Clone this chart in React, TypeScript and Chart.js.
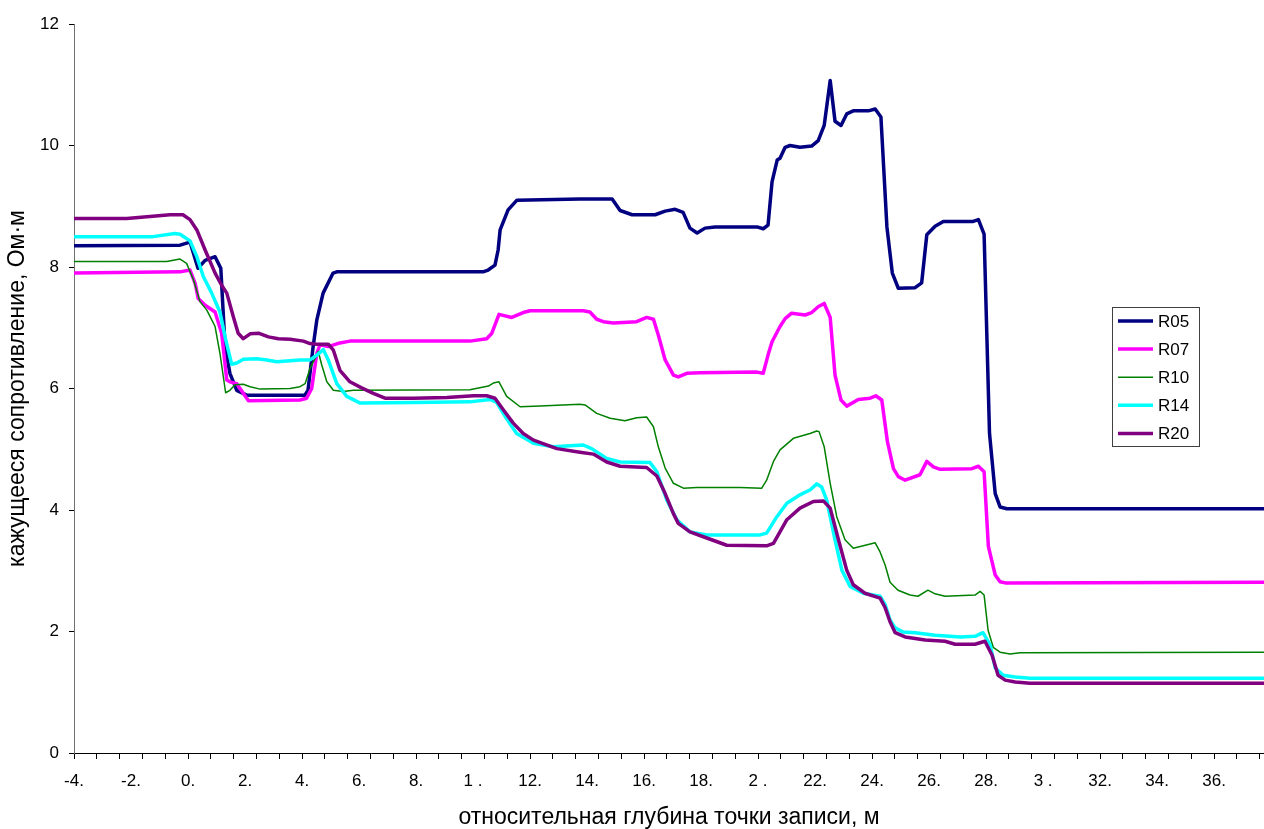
import React, { useEffect, useRef } from "react";
import { Chart, registerables } from "chart.js";

Chart.register(...registerables);

const seriesNames = ["R05", "R07", "R10", "R14", "R20"];
const seriesColors = ["#000080", "#FF00FF", "#008000", "#00FFFF", "#800080"];
const seriesWidths = [3.5, 3.5, 1.5, 3.5, 3.5];

const xTickLabels = ["-4.", "-2.", "0.", "2.", "4.", "6.", "8.", "1 .", "12.", "14.", "16.", "18.", "2 .", "22.", "24.", "26.", "28.", "3 .", "32.", "34.", "36."];
const yTickLabels = ["0", "2", "4", "6", "8", "10", "12"];

const X_MIN = -4;
const X_MAX = 37.75;

const r05X = [-4, -0.28, 0.07, 0.35, 0.6, 0.95, 1.15, 1.3, 1.47, 1.71, 2.06, 4.1, 4.21, 4.39, 4.52, 4.74, 5.09, 5.22, 10.35, 10.53, 10.77, 10.88, 10.95, 11.23, 11.54, 13.75, 14.88, 15.16, 15.58, 16.39, 16.74, 17.09, 17.37, 17.61, 17.86, 18.14, 18.49, 19.96, 20.18, 20.35, 20.49, 20.67, 20.77, 20.95, 21.12, 21.47, 21.88, 22.11, 22.32, 22.53, 22.7, 22.91, 23.11, 23.34, 23.87, 24.11, 24.31, 24.52, 24.71, 24.92, 25.51, 25.74, 25.92, 26.21, 26.5, 27.55, 27.73, 27.93, 28.12, 28.32, 28.49, 28.73, 37.75];
const r05Y = [8.35, 8.36, 8.41, 7.98, 8.11, 8.17, 7.98, 6.69, 6.25, 5.97, 5.89, 5.89, 5.97, 6.69, 7.13, 7.57, 7.9, 7.92, 7.92, 7.95, 8.03, 8.28, 8.61, 8.94, 9.1, 9.12, 9.12, 8.93, 8.86, 8.86, 8.92, 8.95, 8.9, 8.64, 8.56, 8.64, 8.66, 8.66, 8.63, 8.69, 9.4, 9.76, 9.79, 9.97, 10.0, 9.97, 9.99, 10.08, 10.33, 11.07, 10.4, 10.33, 10.52, 10.57, 10.57, 10.6, 10.47, 8.66, 7.9, 7.65, 7.66, 7.74, 8.53, 8.67, 8.75, 8.75, 8.78, 8.54, 5.26, 4.27, 4.05, 4.02, 4.02];

const r07X = [-4, -0.28, 0.07, 0.25, 0.36, 0.6, 0.95, 1.18, 1.36, 1.47, 1.71, 2.12, 3.93, 4.16, 4.34, 4.52, 4.63, 4.92, 5.33, 5.68, 9.89, 10.48, 10.66, 10.91, 11.36, 11.76, 12.0, 13.87, 14.1, 14.34, 14.57, 14.92, 15.74, 16.09, 16.33, 16.5, 16.74, 17.03, 17.2, 17.5, 17.96, 19.96, 20.18, 20.35, 20.49, 20.77, 20.95, 21.18, 21.65, 21.88, 22.12, 22.32, 22.53, 22.7, 22.91, 23.11, 23.52, 23.93, 24.13, 24.34, 24.54, 24.75, 24.92, 25.16, 25.68, 25.92, 26.15, 26.39, 27.5, 27.73, 27.93, 28.08, 28.32, 28.49, 28.67, 37.75];
const r07Y = [7.9, 7.92, 7.95, 7.73, 7.48, 7.37, 7.26, 6.91, 6.14, 6.11, 6.08, 5.8, 5.81, 5.84, 6.0, 6.58, 6.72, 6.69, 6.75, 6.78, 6.78, 6.82, 6.91, 7.22, 7.17, 7.25, 7.28, 7.28, 7.26, 7.14, 7.1, 7.08, 7.1, 7.17, 7.14, 6.88, 6.47, 6.22, 6.19, 6.25, 6.26, 6.27, 6.25, 6.55, 6.77, 7.02, 7.15, 7.24, 7.21, 7.25, 7.35, 7.4, 7.17, 6.22, 5.81, 5.71, 5.82, 5.84, 5.88, 5.81, 5.12, 4.68, 4.55, 4.49, 4.58, 4.8, 4.71, 4.67, 4.68, 4.72, 4.63, 3.4, 2.93, 2.82, 2.8, 2.81];

const r10X = [-4, -0.75, -0.28, -0.05, 0.19, 0.42, 0.66, 0.95, 1.12, 1.32, 1.47, 1.65, 1.94, 2.18, 2.53, 3.58, 3.93, 4.11, 4.28, 4.46, 4.57, 4.69, 4.87, 5.1, 5.45, 5.8, 9.89, 10.54, 10.71, 10.91, 11.18, 11.65, 12.35, 13.75, 13.93, 14.34, 14.81, 15.33, 15.74, 16.09, 16.33, 16.5, 16.74, 17.03, 17.38, 17.85, 19.37, 20.13, 20.3, 20.54, 20.77, 21.24, 21.82, 22.06, 22.14, 22.32, 22.53, 22.76, 23.05, 23.34, 24.11, 24.28, 24.46, 24.63, 24.91, 25.33, 25.61, 25.96, 26.21, 26.56, 27.61, 27.79, 27.93, 28.07, 28.25, 28.49, 28.84, 29.19, 37.75];
const r10Y = [8.09, 8.09, 8.13, 8.06, 7.79, 7.43, 7.29, 7.02, 6.58, 5.93, 5.97, 6.06, 6.07, 6.03, 5.99, 6.0, 6.03, 6.08, 6.33, 6.5, 6.61, 6.39, 6.11, 5.97, 5.95, 5.97, 5.98, 6.04, 6.09, 6.11, 5.87, 5.7, 5.71, 5.74, 5.73, 5.59, 5.51, 5.47, 5.52, 5.53, 5.37, 5.04, 4.69, 4.44, 4.36, 4.37, 4.37, 4.36, 4.49, 4.8, 4.99, 5.18, 5.26, 5.3, 5.29, 5.04, 4.44, 3.89, 3.51, 3.37, 3.46, 3.31, 3.09, 2.81, 2.68, 2.6, 2.58, 2.68, 2.62, 2.58, 2.6, 2.66, 2.6, 2.02, 1.74, 1.66, 1.63, 1.65, 1.66];

const r14X = [-4, -1.23, -0.46, -0.28, 0.07, 0.31, 0.54, 0.83, 1.12, 1.3, 1.53, 1.71, 1.94, 2.41, 2.76, 3.11, 3.93, 4.28, 4.52, 4.75, 4.92, 5.22, 5.57, 6.04, 7.91, 9.89, 10.6, 10.83, 11.18, 11.53, 12.12, 12.82, 13.87, 14.16, 14.69, 15.16, 16.21, 16.45, 16.8, 17.15, 17.61, 18.2, 20.07, 20.3, 20.66, 21.01, 21.47, 21.82, 22.06, 22.23, 22.41, 22.7, 22.94, 23.23, 23.69, 24.28, 24.46, 24.63, 24.81, 25.09, 25.51, 26.21, 27.09, 27.61, 27.89, 28.14, 28.32, 28.6, 29.02, 29.54, 37.75];
const r14Y = [8.5, 8.5, 8.55, 8.54, 8.43, 8.17, 7.84, 7.57, 7.26, 6.85, 6.4, 6.42, 6.48, 6.49, 6.47, 6.44, 6.47, 6.47, 6.55, 6.64, 6.47, 6.08, 5.87, 5.76, 5.77, 5.78, 5.82, 5.77, 5.5, 5.26, 5.1, 5.04, 5.07, 5.01, 4.85, 4.79, 4.78, 4.63, 4.16, 3.84, 3.64, 3.59, 3.59, 3.62, 3.89, 4.11, 4.25, 4.33, 4.43, 4.38, 4.16, 3.51, 3.01, 2.74, 2.63, 2.58, 2.44, 2.19, 2.06, 1.99, 1.98, 1.94, 1.91, 1.92, 1.98, 1.78, 1.4, 1.28, 1.25, 1.23, 1.23];

const r20X = [-4, -2.15, -0.63, -0.18, 0.07, 0.31, 0.6, 0.95, 1.18, 1.36, 1.59, 1.76, 1.94, 2.18, 2.47, 2.82, 3.17, 3.58, 4.05, 4.28, 4.52, 4.92, 5.1, 5.33, 5.68, 6.09, 6.5, 6.91, 7.91, 9.08, 10.01, 10.48, 10.77, 11.06, 11.41, 11.76, 12.12, 12.94, 13.75, 14.22, 14.69, 15.16, 16.09, 16.45, 16.74, 17.03, 17.2, 17.61, 18.08, 18.9, 20.3, 20.54, 21.01, 21.47, 21.94, 22.29, 22.53, 22.82, 23.11, 23.34, 23.75, 24.28, 24.46, 24.63, 24.81, 25.16, 25.86, 26.56, 26.91, 27.61, 27.96, 28.21, 28.42, 28.67, 29.02, 29.54, 37.75];
const r20Y = [8.8, 8.8, 8.86, 8.86, 8.78, 8.61, 8.28, 7.9, 7.7, 7.57, 7.18, 6.91, 6.82, 6.9, 6.91, 6.85, 6.82, 6.81, 6.78, 6.74, 6.73, 6.73, 6.63, 6.3, 6.11, 6.01, 5.92, 5.84, 5.84, 5.85, 5.88, 5.88, 5.84, 5.65, 5.43, 5.26, 5.15, 5.01, 4.95, 4.92, 4.79, 4.72, 4.7, 4.56, 4.27, 3.94, 3.78, 3.64, 3.56, 3.42, 3.41, 3.45, 3.84, 4.03, 4.14, 4.15, 4.03, 3.51, 3.01, 2.77, 2.63, 2.55, 2.39, 2.16, 1.98, 1.91, 1.86, 1.84, 1.79, 1.79, 1.84, 1.61, 1.28, 1.2, 1.17, 1.15, 1.15];

const xTitle = "относительная глубина точки записи, м";
const yTitle = "кажущееся сопротивление, Ом·м";

const FONT = "'Liberation Sans', Arial, sans-serif";

function zip(xs: number[], ys: number[]) {
  const n = Math.min(xs.length, ys.length);
  const out: { x: number; y: number }[] = [];
  for (let i = 0; i < n; i++) out.push({ x: xs[i], y: ys[i] });
  return out;
}

const isLabelTick = (v: number) => Math.abs(v / 2 - Math.round(v / 2)) < 1e-6;
const isMarkTick = (v: number) => {
  const k = (v - X_MIN) / 0.8;
  return Math.abs(k - Math.round(k)) < 1e-6;
};

const legendPlugin = {
  id: "boxLegend",
  afterDraw(chart: any) {
    const ctx = chart.ctx;
    const x0 = 1112.5, y0 = 307.5, w = 87, h = 139;
    ctx.save();
    ctx.fillStyle = "#ffffff";
    ctx.fillRect(x0, y0, w, h);
    ctx.strokeStyle = "#404040";
    ctx.lineWidth = 1;
    ctx.strokeRect(x0, y0, w, h);
    ctx.font = `17px ${FONT}`;
    ctx.textBaseline = "middle";
    ctx.textAlign = "left";
    chart.data.datasets.forEach((ds: any, i: number) => {
      const yy = 321 + i * 28.1;
      ctx.strokeStyle = ds.borderColor;
      ctx.lineWidth = ds.borderWidth;
      ctx.beginPath();
      ctx.moveTo(1118, yy);
      ctx.lineTo(1153, yy);
      ctx.stroke();
      ctx.fillStyle = "#000";
      ctx.fillText(ds.label, 1158, yy + 1);
    });
    ctx.restore();
  },
};

export default function App() {
  const ref = useRef<HTMLCanvasElement | null>(null);
  useEffect(() => {
    if (!ref.current) return;
    const xs = [r05X, r07X, r10X, r14X, r20X];
    const ys = [r05Y, r07Y, r10Y, r14Y, r20Y];
    const chart = new Chart(ref.current, {
      type: "line",
      data: {
        datasets: seriesNames.map((name, i) => ({
          label: name,
          data: zip(xs[i], ys[i]),
          borderColor: seriesColors[i],
          backgroundColor: seriesColors[i],
          borderWidth: seriesWidths[i],
          pointRadius: 0,
          tension: 0,
          fill: false,
          order: seriesNames.length - i,
          borderJoinStyle: "round" as const,
        })),
      },
      options: {
        animation: false,
        responsive: false,
        maintainAspectRatio: false,
        devicePixelRatio: 1,
        layout: { padding: { top: 24, right: 0, left: 0, bottom: 0 } },
        plugins: { legend: { display: false }, tooltip: { enabled: false } },
        scales: {
          x: {
            type: "linear",
            min: X_MIN,
            max: X_MAX,
            afterBuildTicks: (scale: any) => {
              const t: { value: number }[] = [];
              for (let k = 0; ; k++) {
                const v = Math.round((X_MIN + 0.4 * k) * 100) / 100;
                if (v > X_MAX + 1e-9) break;
                t.push({ value: v });
              }
              scale.ticks = t;
            },
            afterFit: (scale: any) => {
              scale.height = 76;
              scale.paddingRight = 0;
              scale.paddingLeft = 0;
            },
            ticks: {
              autoSkip: false,
              maxRotation: 0,
              minRotation: 0,
              padding: 12,
              color: "#000",
              font: { family: FONT, size: 17 },
              callback: (value: any) => {
                const v = Number(value);
                if (!isLabelTick(v)) return "";
                const idx = Math.round((v - X_MIN) / 2);
                return xTickLabels[idx] ?? "";
              },
            },
            grid: {
              drawOnChartArea: false,
              drawTicks: true,
              tickLength: 6,
              tickWidth: 1,
              tickColor: (ctx: any) =>
                ctx.tick && isMarkTick(ctx.tick.value) ? "#000" : "rgba(0,0,0,0)",
            },
            border: { display: true, color: "#000", width: 1 },
            title: {
              display: true,
              text: xTitle,
              color: "#000",
              font: { family: FONT, size: 23, lineHeight: 1 },
              padding: { top: 0, bottom: 0 },
            },
          },
          y: {
            type: "linear",
            min: 0,
            max: 12,
            afterFit: (scale: any) => {
              scale.width = 74;
            },
            ticks: {
              stepSize: 2,
              padding: 10,
              color: "#000",
              font: { family: FONT, size: 17 },
              callback: (value: any) => {
                const idx = Math.round(Number(value) / 2);
                return yTickLabels[idx] ?? "";
              },
            },
            grid: {
              drawOnChartArea: false,
              drawTicks: true,
              tickLength: 5,
              tickColor: "#000",
            },
            border: { display: true, color: "#707070", width: 1 },
            title: {
              display: true,
              text: yTitle,
              color: "#000",
              font: { family: FONT, size: 23, lineHeight: 1 },
              padding: { top: 6, bottom: 0 },
            },
          },
        },
      },
      plugins: [legendPlugin],
    } as any);
    return () => chart.destroy();
  }, []);

  return (
    <div style={{ position: "fixed", left: 0, top: 0, width: 1264, height: 829, background: "#fff" }}>
      <canvas ref={ref} width={1264} height={829} style={{ width: 1264, height: 829, display: "block" }} />
    </div>
  );
}
